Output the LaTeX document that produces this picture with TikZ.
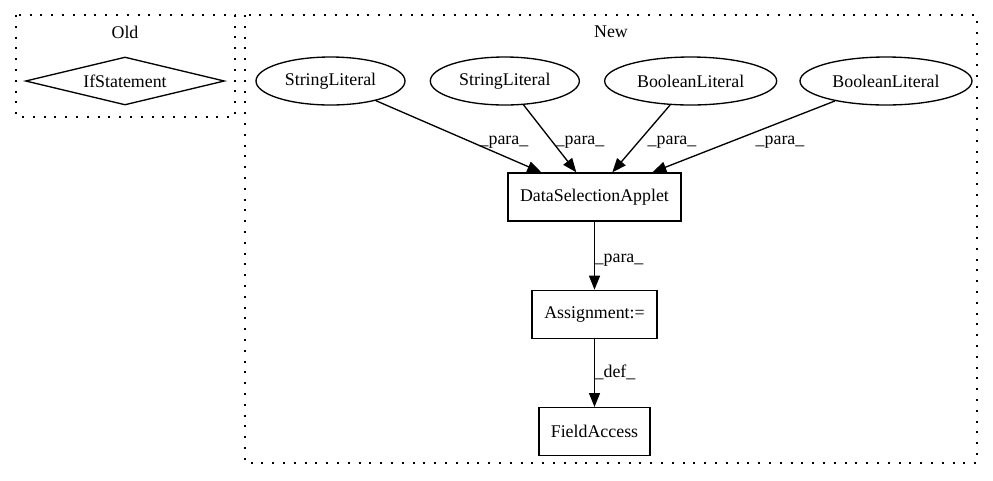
\documentclass[tikz,border=0pt]{standalone}
\usepackage{fontspec}
\setmainfont{Liberation Serif}
\usetikzlibrary{shapes.geometric,positioning,calc,arrows.meta}

\begin{document}
\begin{tikzpicture}[x=0.75pt, y=-0.75pt, node distance=18pt,
                    >={Triangle[length=10.5pt,width=8.25pt]},
                    every node/.style={font=\fontsize{13.4}{16}\selectfont},
                    cluster/.style={draw, line width=1pt, dash pattern=on 1.5pt off 6.6pt},
                    lit/.style={draw, ellipse, line width=1pt, minimum height=36pt, inner sep=0pt},
                    box/.style={draw, rectangle, line width=1pt, minimum height=36pt, inner sep=0pt},
                    lbl/.style={inner sep=0pt}]
\useasboundingbox (0,0) rectangle (993,480);

% clusters
\draw[cluster] (16,15) rectangle (235,117);
\draw[cluster] (245,15) rectangle (977,463);
\node (old) at (125,32) {Old};
\node (new) at (611,32) {New};

\node[draw, diamond, aspect=4, line width=1pt, minimum width=149.25pt,
      minimum height=36pt, inner sep=0pt] (ifst) at (125,81) {IfStatement};

\node[lit, minimum width=111.75pt] (str1) at (330.5,81) {StringLiteral};
\node[lit, minimum width=111.75pt, right=of str1] (str2) {StringLiteral};
\node[lit, minimum width=129pt, right=of str2] (bool1) {BooleanLiteral};
\node[lit, minimum width=129pt, right=16.5pt of bool1] (bool2) {BooleanLiteral};

\node[box, minimum width=129.75pt] (dsa) at (594.5,197) {DataSelectionApplet};
\node[box, minimum width=93.75pt, below=51pt of dsa] (asg) {Assignment:=};
\node[box, minimum width=83.25pt, below=51pt of asg] (fa) {FieldAccess};

\path[->, line width=1pt]
(str1) edge ($(dsa.north west)+(34,0)$)
(str2) edge ($(dsa.north west)+(69,0)$)
(bool1) edge ($(dsa.north west)+(105,0)$)
(bool2) edge ($(dsa.north west)+(145,0)$)
(dsa) edge (asg)
(asg) edge (fa);

% edge labels
\node[lbl] (p1) at (504,142) {\_para\_};
\node[lbl] (p2) at (580,142) {\_para\_};
\node[lbl] (p3) at (672,142) {\_para\_};
\node[lbl] (p4) at (780,142) {\_para\_};
\node[lbl] (p5) at (619,260) {\_para\_};
\node[lbl] (d1) at (615,372) {\_def\_};
\end{tikzpicture}
\end{document}
